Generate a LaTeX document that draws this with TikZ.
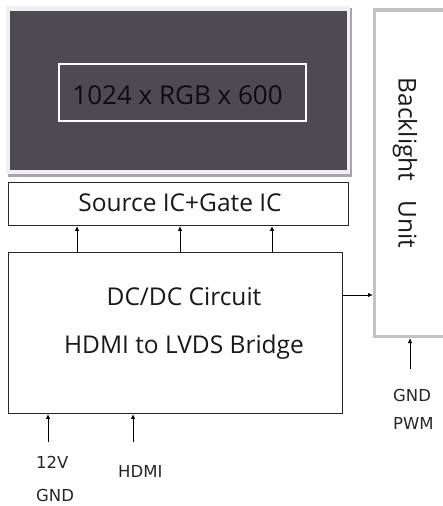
\documentclass[tikz,border=0pt]{standalone}
\usepackage{fontspec}
\setmainfont{Open Sans}
\newfontfamily\labelfont{DejaVu Sans}
\usetikzlibrary{arrows.meta}
\definecolor{panel}{HTML}{4D4A52}
\definecolor{panelrim}{HTML}{F0F0F0}
\definecolor{panelshadow}{HTML}{A8A4B0}
\definecolor{blgray}{HTML}{C3C3C3}
\begin{document}
\begin{tikzpicture}[x=1pt,y=-1pt,
  box/.style={draw=black!85, line width=0.9pt, fill=white},
  sig/.style={-{Latex[length=5pt,width=4.5pt]}, line width=1pt},
  maintext/.style={font=\fontsize{24.5}{26}\selectfont, text=black!90},
  lbl/.style={font=\labelfont\fontsize{16.5}{18}\selectfont, text=black!85}]
\useasboundingbox (0,0) rectangle (443,506);
% panel
\fill[panelshadow] (8,8) rectangle (352,177);
\fill[panelrim] (6,6) rectangle (350,174);
\fill[panel] (10,11) rectangle (347,170);
\draw[white, line width=2.5pt] (59,64) rectangle (306,121);
\node[font=\fontsize{26}{28}\selectfont, text=black!95] (res) at (177.5,95) {1024 x RGB x 600};
% backlight
\draw[blgray, line width=3.5pt] (460,10) -- (374.5,10) -- (374.5,336.5) -- (460,336.5);
\node[maintext, rotate=-90] (bl) at (405,163) {Backlight\ \ \ Unit};
\coordinate (blL) at (373,295);
\coordinate (blB) at (410,338);
% source
\node[box, minimum width=340pt, minimum height=43pt, anchor=north west, inner sep=0pt] (src) at (8,182) {};
\node[maintext] (srct) at (180,203) {Source IC+Gate IC};
% main
\node[box, minimum width=334pt, minimum height=161pt, anchor=north west, inner sep=0pt] (main) at (8,252) {};
\node[maintext] (dc) at (184,297) {DC/DC Circuit};
\node[maintext] (hd) at (184,347) {HDMI to LVDS Bridge};
% arrows main -> source
\foreach \x in {77,180,272} \draw[sig] (main.north west -| \x,0) -- (src.south west -| \x,0);
% main -> backlight
\draw[sig] (main.east |- 0,295) -- (blL);
% inputs
\coordinate (in1) at (48,442);
\coordinate (in2) at (133,442);
\coordinate (in3) at (410,369);
\draw[sig] (in1) -- (main.south west -| in1);
\draw[sig] (in2) -- (main.south west -| in2);
\draw[sig] (in3) -- (blB);
\node[lbl, anchor=west, inner sep=0pt] (v12) at (36,462) {12V};
\node[lbl, anchor=west, inner sep=0pt] (gnd1) at (36,495) {GND};
\node[lbl, anchor=west, inner sep=0pt] (hdmi) at (118,471) {HDMI};
\node[lbl, anchor=west, inner sep=0pt] (gnd2) at (393,395) {GND};
\node[lbl, anchor=west, inner sep=0pt] (pwm) at (393,423) {PWM};
\end{tikzpicture}
\end{document}
